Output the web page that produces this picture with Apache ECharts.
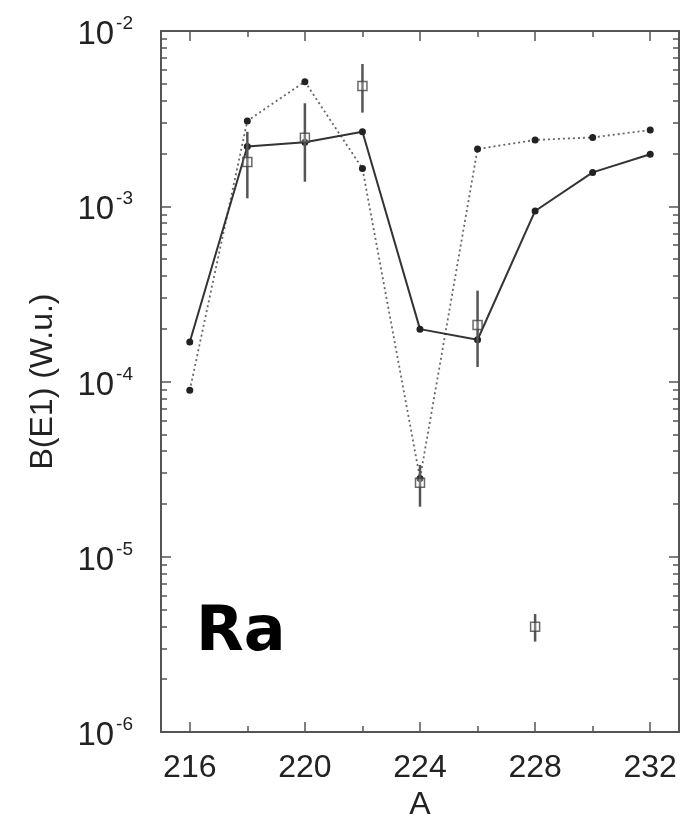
<!DOCTYPE html>
<html>
<head>
<meta charset="utf-8">
<script src="https://cdn.jsdelivr.net/npm/echarts@6/dist/echarts.min.js"></script>
<style>
  html, body { margin: 0; padding: 0; background: #fff; }
  #chart { width: 692px; height: 822px; }
</style>
</head>
<body>
<div id="chart"></div>
<script>
// Mass numbers of the Ra isotopes
const massNumbers = [216, 218, 220, 222, 224, 226, 228, 230, 232];
// Calculated B(E1), solid curve
const theorySolid = [1.68e-4, 2.19e-3, 2.32e-3, 2.66e-3, 1.99e-4, 1.73e-4, 9.4e-4, 1.56e-3, 1.98e-3];
// Calculated B(E1), dotted curve
const theoryDotted = [8.9e-5, 3.07e-3, 5.14e-3, 1.64e-3, 2.8e-5, 2.12e-3, 2.39e-3, 2.47e-3, 2.72e-3];
// Measured values with error bars
const expMass = [218, 220, 222, 224, 226, 228];
const expValue = [1.79e-3, 2.46e-3, 4.85e-3, 2.64e-5, 2.10e-4, 3.99e-6];
const expLow = [1.11e-3, 1.38e-3, 3.42e-3, 1.93e-5, 1.21e-4, 3.28e-6];
const expHigh = [2.66e-3, 3.87e-3, 6.48e-3, 3.34e-5, 3.3e-4, 4.71e-6];
// Axis ticks
const xMajorTicks = [216, 220, 224, 228, 232];
const xMinorTicks = [218, 222, 226, 230];
const yMajorTicks = [1e-6, 1e-5, 1e-4, 1e-3, 1e-2];
const yMinorTicks = [];
for (let e = -6; e < -2; e++) {
  for (let m = 2; m <= 9; m++) yMinorTicks.push(m * Math.pow(10, e));
}

const FONT = '"Liberation Sans", Arial, sans-serif';
const AXIS_COLOR = '#555';

const chart = echarts.init(document.getElementById('chart'));

function xAxisDef(pos, ticks, len, showLine, showLabel) {
  return {
    type: 'value', position: pos, min: 215, max: 233,
    axisLine: { show: showLine, lineStyle: { color: AXIS_COLOR, width: 2 } },
    axisTick: { show: true, inside: true, length: len, customValues: ticks,
                lineStyle: { color: AXIS_COLOR, width: 1.5 } },
    axisLabel: showLabel ? {
      show: true, customValues: xMajorTicks, margin: 20,
      fontFamily: FONT, fontSize: 32, color: '#222'
    } : { show: false },
    splitLine: { show: false }
  };
}

function yAxisDef(pos, ticks, len, showLine, showLabel) {
  return {
    type: 'log', logBase: 10, position: pos, min: 1e-6, max: 1e-2,
    axisLine: { show: showLine, lineStyle: { color: AXIS_COLOR, width: 2 } },
    axisTick: { show: true, inside: true, length: len, customValues: ticks,
                lineStyle: { color: AXIS_COLOR, width: 1.5 } },
    axisLabel: showLabel ? {
      show: true, customValues: yMajorTicks, margin: 28,
      formatter: function (v) {
        const e = Math.round(Math.log10(v));
        return '{b|10}{s|' + e + '}';
      },
      rich: {
        b: { fontFamily: FONT, fontSize: 33, color: '#222', lineHeight: 33,
             verticalAlign: 'middle', padding: [8, 0, 0, 0] },
        s: { fontFamily: FONT, fontSize: 19, color: '#222', lineHeight: 19,
             verticalAlign: 'middle', padding: [0, 0, 14, 2] }
      }
    } : { show: false },
    splitLine: { show: false },
    minorTick: { show: false }
  };
}

chart.setOption({
  animation: false,
  backgroundColor: '#fff',
  grid: { left: 161, right: 13, top: 31, bottom: 90, containLabel: false, outerBoundsMode: 'none' },
  xAxis: [
    Object.assign(xAxisDef('bottom', xMajorTicks, 10, true, true), {
      name: 'A', nameLocation: 'middle', nameGap: 51,
      nameTextStyle: { fontFamily: FONT, fontSize: 32, color: '#222' }
    }),
    xAxisDef('bottom', xMinorTicks, 6, false, false),
    xAxisDef('top', xMajorTicks, 10, true, false),
    xAxisDef('top', xMinorTicks, 6, false, false)
  ],
  yAxis: [
    Object.assign(yAxisDef('left', yMajorTicks, 10, true, true), {
      name: 'B(E1) (W.u.)', nameLocation: 'middle', nameGap: 102, nameRotate: 90,
      nameTextStyle: { fontFamily: FONT, fontSize: 32, color: '#222' }
    }),
    yAxisDef('left', yMinorTicks, 6, false, false),
    yAxisDef('right', yMajorTicks, 10, true, false),
    yAxisDef('right', yMinorTicks, 6, false, false)
  ],
  graphic: [{
    type: 'text', left: 196, top: 603,
    style: { text: 'Ra', fontFamily: '"DejaVu Sans", sans-serif', fontWeight: 'bold', fontSize: 62, fill: '#000' }
  }],
  series: [
    {
      name: 'dotted', type: 'line', xAxisIndex: 0, yAxisIndex: 0,
      data: massNumbers.map((a, i) => [a, theoryDotted[i]]),
      lineStyle: { color: '#666', width: 1.8, type: [2, 3] },
      symbol: 'circle', symbolSize: 7,
      itemStyle: { color: '#222' }, z: 2
    },
    {
      name: 'solid', type: 'line', xAxisIndex: 0, yAxisIndex: 0,
      data: massNumbers.map((a, i) => [a, theorySolid[i]]),
      lineStyle: { color: '#333', width: 2 },
      symbol: 'circle', symbolSize: 7,
      itemStyle: { color: '#222' }, z: 3
    },
    {
      name: 'errors', type: 'custom', xAxisIndex: 0, yAxisIndex: 0,
      data: expMass.map((a, i) => [a, expLow[i], expHigh[i]]),
      renderItem: function (params, api) {
        const lo = api.coord([api.value(0), api.value(1)]);
        const hi = api.coord([api.value(0), api.value(2)]);
        return {
          type: 'line',
          shape: { x1: lo[0], y1: lo[1], x2: hi[0], y2: hi[1] },
          style: { stroke: '#555', lineWidth: 2.5 }
        };
      },
      z: 4
    },
    {
      name: 'experiment', type: 'scatter', xAxisIndex: 0, yAxisIndex: 0,
      data: expMass.map((a, i) => [a, expValue[i]]),
      symbol: 'rect', symbolSize: 9,
      itemStyle: { color: 'rgba(255,255,255,0.3)', borderColor: '#444', borderWidth: 1.5 },
      z: 5
    }
  ]
});
</script>
</body>
</html>
